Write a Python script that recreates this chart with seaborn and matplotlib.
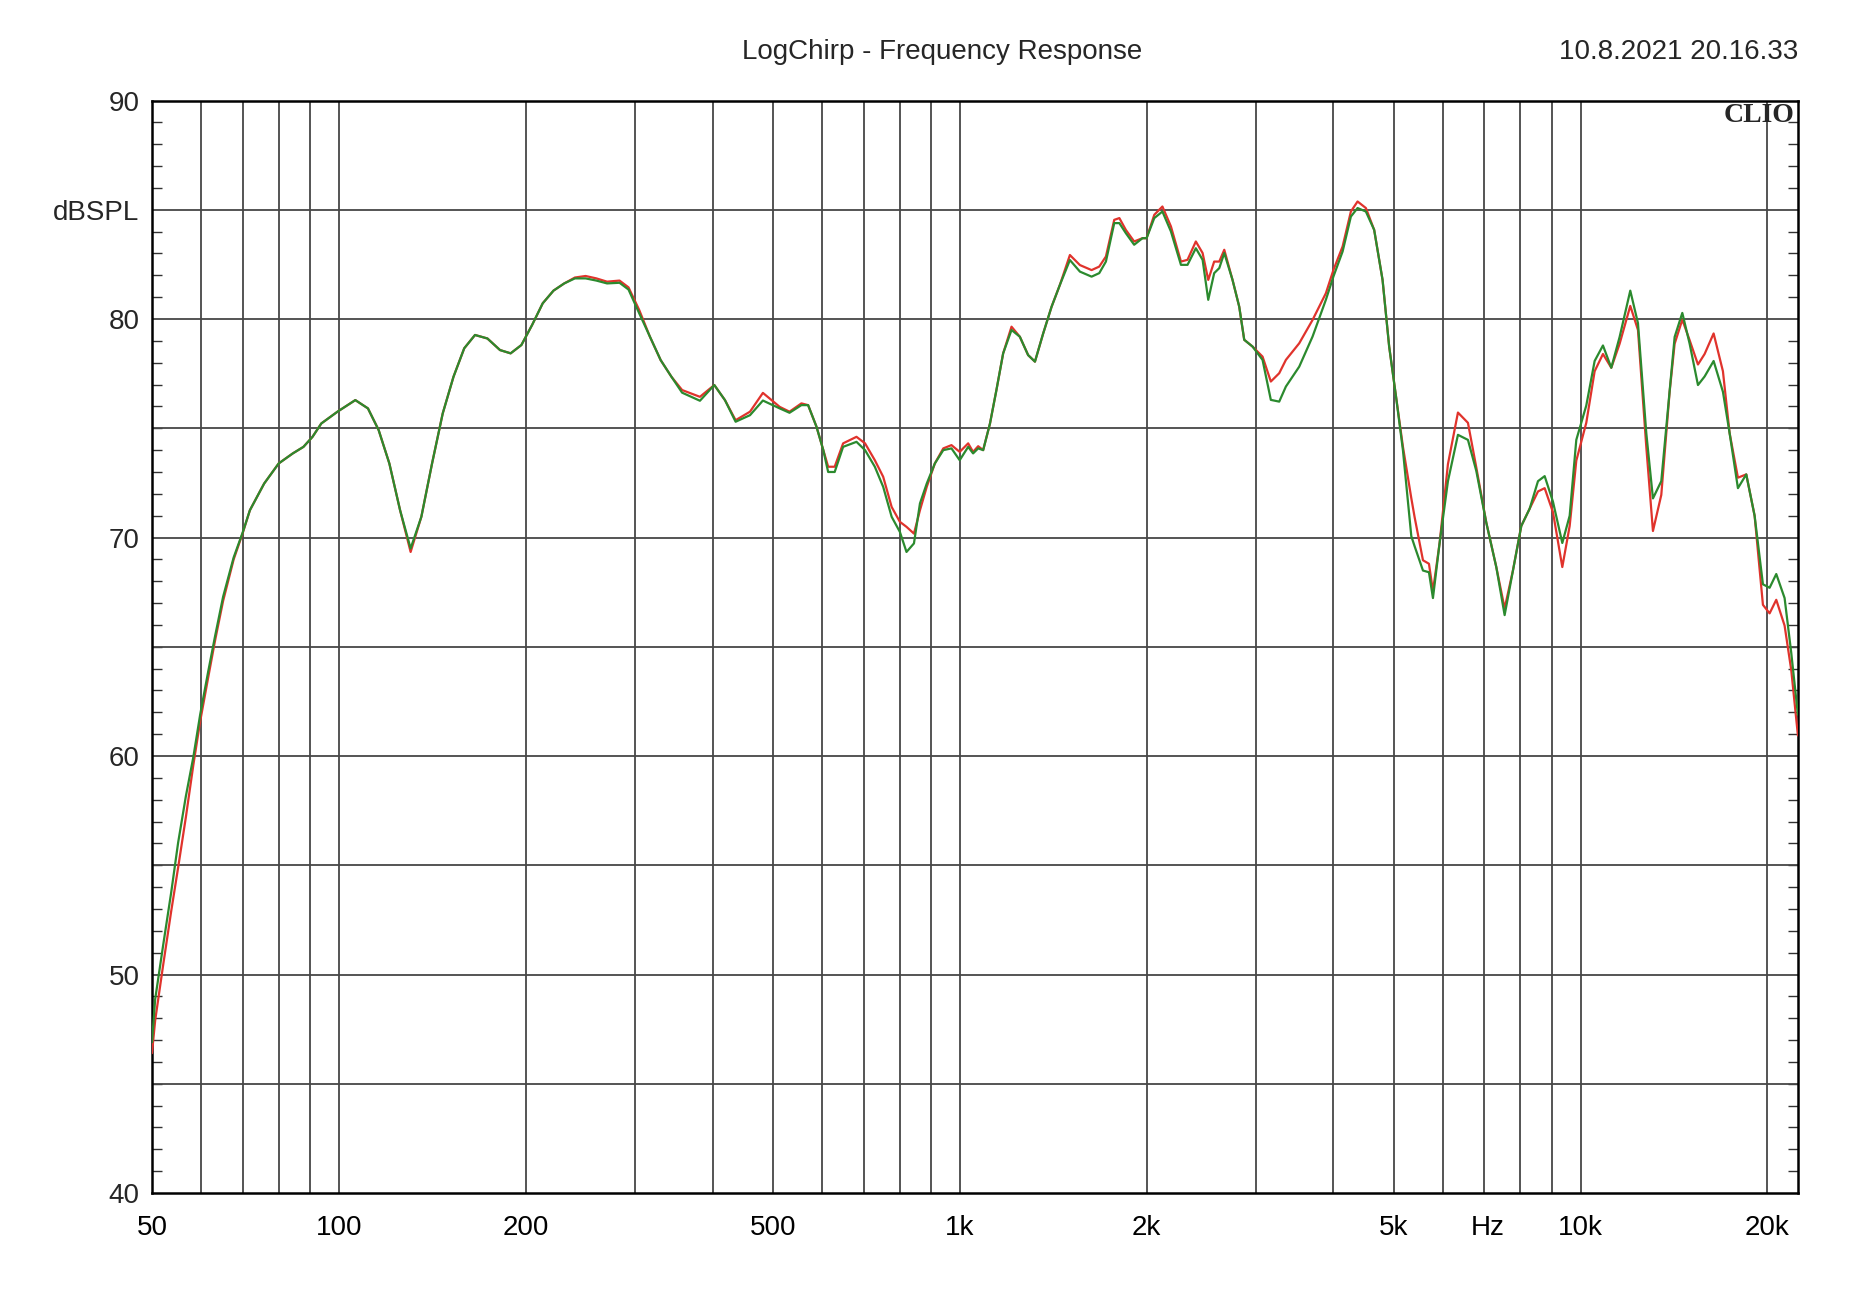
import numpy as np
import pandas as pd
import matplotlib
matplotlib.use('Agg')
import matplotlib.pyplot as plt
import seaborn as sns
from matplotlib.ticker import FixedLocator, NullLocator

# ---------------- data ----------------
freq_hz = [50, 50.6, 52.1, 53.7, 55.1, 56.7, 58.3, 59.8, 61.6, 63.2,
           65.1, 67.7, 70, 71.9, 75.8, 80, 84.3, 87.7, 90.7, 93.7,
           99.5, 106.3, 111.4, 115.9, 120.6, 125.5, 130.5, 135.8, 141.3, 147,
           153, 159.2, 165.7, 173.5, 181.8, 189.1, 196.8, 204.8, 213, 221.7,
           230.7, 240, 249.7, 259.9, 270.4, 283.2, 292.8, 304.7, 317, 329.9,
           343.3, 357.2, 381.6, 402.5, 418.7, 435.6, 459.5, 482, 513, 532,
           556, 570, 588, 603, 614, 629, 649, 682, 704, 730,
           753, 777, 801, 821, 844, 863, 885, 912, 941, 970,
           1000, 1032, 1051, 1071, 1091, 1119, 1146, 1175, 1212, 1250,
           1289, 1322, 1363, 1406, 1450, 1505, 1562, 1631, 1678, 1720,
           1774, 1808, 1852, 1910, 1970, 2000, 2058, 2121, 2189, 2272,
           2328, 2401, 2462, 2514, 2570, 2619, 2668, 2751, 2820, 2873,
           2963, 3075, 3171, 3271, 3353, 3523, 3702, 3889, 4000, 4138,
           4267, 4374, 4511, 4652, 4799, 4918,
           5050, 5176, 5339, 5405, 5575, 5700, 5785, 5930, 6116, 6347,
           6587, 6794, 7050, 7317, 7547, 7783, 8028, 8281, 8541, 8755,
           9029, 9347, 9606, 9845, 10216, 10538, 10868, 11209, 11561, 12027,
           12375, 12763, 13082, 13493, 13917, 14178, 14587, 14989, 15459, 15845,
           16383, 16959, 17384, 17929, 18492, 19073, 19671, 20164, 20668, 21317,
           21850, 22397]

red_db = [46.4, 47.9, 50.4, 52.9, 54.9, 57.2, 59.6, 61.6, 63.6, 65.3,
          67.1, 69.0, 70.2, 71.25, 72.47, 73.39, 73.85, 74.15, 74.61, 75.22,
          75.76, 76.29, 75.91, 74.92, 73.39, 71.25, 69.34, 70.95, 73.39, 75.68,
          77.36, 78.66, 79.27, 79.11, 78.58, 78.43, 78.81, 79.73, 80.72, 81.30,
          81.63, 81.9, 81.97, 81.86, 81.71, 81.76, 81.45, 80.41, 79.19, 78.12,
          77.36, 76.75, 76.44, 76.98, 76.29, 75.37, 75.76, 76.62, 75.98, 75.76,
          76.14, 76.06, 75.07, 74.0, 73.24, 73.24, 74.31, 74.61, 74.31, 73.54,
          72.78, 71.4, 70.72, 70.49, 70.18, 71.25, 72.32, 73.39, 74.08, 74.23,
          73.92, 74.31, 73.92, 74.18, 74.0, 75.22, 76.75, 78.43, 79.65, 79.19,
          78.35, 78.05, 79.34, 80.56, 81.56, 82.93, 82.47, 82.24, 82.4, 82.86,
          84.54, 84.62, 84.08, 83.55, 83.70, 83.70, 84.77, 85.15, 84.24, 82.63,
          82.71, 83.55, 83.02, 81.79, 82.63, 82.63, 83.17, 81.79, 80.57, 79.05,
          78.74, 78.28, 77.14, 77.52, 78.13, 78.89, 79.96, 81.18, 82.25, 83.32,
          84.92, 85.38, 85.08, 84.08, 81.79, 78.74,
          76.35, 74.15, 71.8, 70.93, 68.96, 68.8, 67.55, 69.75, 73.36, 75.72,
          75.25, 73.21, 70.69, 68.65, 66.76, 68.49, 70.53, 71.32, 72.11, 72.26,
          71.16, 68.65, 70.53, 73.52, 75.25, 77.61, 78.4, 77.77, 78.87, 80.6,
          79.5, 74.15, 70.3, 71.95, 76.67, 78.87, 79.97, 79.03, 77.92, 78.4,
          79.34, 77.61, 74.78, 72.74, 72.89, 71.0, 66.92, 66.53, 67.15, 65.97,
          63.93, 60.94]

green_db = [46.9, 48.87, 51.31, 53.76, 56.04, 58.16, 59.96, 61.91, 63.87, 65.5,
            67.29, 69.09, 70.23, 71.25, 72.47, 73.39, 73.85, 74.15, 74.61, 75.22,
            75.76, 76.29, 75.91, 74.92, 73.39, 71.25, 69.5, 70.95, 73.39, 75.68,
            77.36, 78.66, 79.27, 79.11, 78.58, 78.43, 78.81, 79.73, 80.72, 81.30,
            81.63, 81.86, 81.86, 81.76, 81.63, 81.66, 81.35, 80.26, 79.19, 78.12,
            77.36, 76.63, 76.26, 76.98, 76.29, 75.3, 75.60, 76.27, 75.91, 75.71,
            76.06, 76.06, 75.07, 74.0, 73.0, 73.0, 74.15, 74.38, 74.0, 73.24,
            72.32, 70.95, 70.26, 69.34, 69.73, 71.56, 72.47, 73.39, 74.0, 74.08,
            73.54, 74.15, 73.85, 74.08, 74.0, 75.22, 76.75, 78.43, 79.5, 79.19,
            78.35, 78.05, 79.34, 80.56, 81.56, 82.70, 82.17, 81.94, 82.1, 82.63,
            84.39, 84.39, 83.93, 83.40, 83.70, 83.70, 84.62, 84.92, 84.01, 82.48,
            82.48, 83.24, 82.71, 80.88, 82.1, 82.33, 83.02, 81.79, 80.57, 79.05,
            78.74, 78.13, 76.30, 76.22, 76.91, 77.82, 79.2, 80.88, 81.95, 83.09,
            84.69, 85.08, 84.92, 84.08, 81.79, 78.74,
            76.35, 73.99, 70.06, 69.6, 68.49, 68.41, 67.23, 69.75, 72.58, 74.7,
            74.47, 73.05, 70.69, 68.65, 66.45, 68.49, 70.53, 71.32, 72.58, 72.81,
            71.64, 69.75, 71.0, 74.47, 76.04, 78.08, 78.79, 77.77, 79.18, 81.3,
            79.81, 74.78, 71.79, 72.58, 76.67, 79.18, 80.28, 78.87, 76.98, 77.37,
            78.08, 76.67, 74.78, 72.26, 72.89, 71.0, 67.86, 67.7, 68.33, 67.23,
            64.72, 61.89]

x_ticks = [50, 100, 200, 500, 1000, 2000, 5000, 7100, 10000, 20000]
x_tick_labels = ['50', '100', '200', '500', '1k', '2k', '5k', 'Hz', '10k', '20k']
y_ticks = [40, 50, 60, 70, 80, 85, 90]
y_tick_labels = ['40', '50', '60', '70', '80', 'dBSPL', '90']
v_grid = [60, 70, 80, 90, 100, 200, 300, 400, 500, 600, 700, 800, 900, 1000,
          2000, 3000, 4000, 5000, 6000, 7000, 8000, 9000, 10000, 20000]
h_grid = [45, 50, 55, 60, 65, 70, 75, 80, 85]

title_text = 'LogChirp - Frequency Response'
date_text = '10.8.2021 20.16.33'

# ---------------- style ----------------
sns.set_style('white')
plt.rcParams['font.family'] = ['Liberation Sans', 'DejaVu Sans']

n = min(len(freq_hz), len(red_db), len(green_db))
df = pd.DataFrame({
    'freq': freq_hz[:n] + freq_hz[:n],
    'dB': red_db[:n] + green_db[:n],
    'trace': ['red'] * n + ['green'] * n,
})

fig = plt.figure(figsize=(18.76, 13.04), dpi=100)
fig.patch.set_facecolor('white')
ax = fig.add_axes([0.0810, 0.0851, 0.8774, 0.8378])

for v in v_grid:
    ax.axvline(v, color='#474747', lw=1.3, zorder=1)
for h in h_grid:
    ax.axhline(h, color='#474747', lw=1.3, zorder=1)

sns.lineplot(data=df, x='freq', y='dB', hue='trace', hue_order=['red', 'green'],
             palette={'red': '#e0332c', 'green': '#2b8a2e'}, estimator=None,
             sort=False, lw=1.6, legend=False, ax=ax, zorder=3)

ax.set_xscale('log')
ax.set_xlim(50, 22400)
ax.set_ylim(40, 90)
ax.set_xlabel('')
ax.set_ylabel('')

ax.set_xticks(x_ticks)
ax.set_xticklabels(x_tick_labels)
ax.xaxis.set_minor_locator(NullLocator())
ax.tick_params(axis='x', which='both', length=0, pad=16, labelsize=20, colors='black')

ax.set_yticks(y_ticks)
ax.set_yticklabels(y_tick_labels)
ax.yaxis.set_minor_locator(FixedLocator(list(range(40, 91))))
ax.tick_params(axis='y', which='major', length=0, pad=9, labelsize=20)
ax.tick_params(axis='y', which='minor', direction='in', length=7, width=1.0,
               left=True, right=True, color='#333333')

for s in ax.spines.values():
    s.set_visible(True)
    s.set_color('black')
    s.set_linewidth(1.8)

fig.text(0.502, 0.9605, title_text, ha='center', va='center', fontsize=20)
fig.text(0.9584, 0.9605, date_text, ha='right', va='center', fontsize=20)
ax.text(0.998, 0.986, 'CLIO', transform=ax.transAxes, ha='right', va='center',
        fontsize=20, fontweight='bold', family=['Liberation Serif', 'DejaVu Serif'], zorder=5)

fig.savefig('out.png', dpi=100, facecolor='white')
